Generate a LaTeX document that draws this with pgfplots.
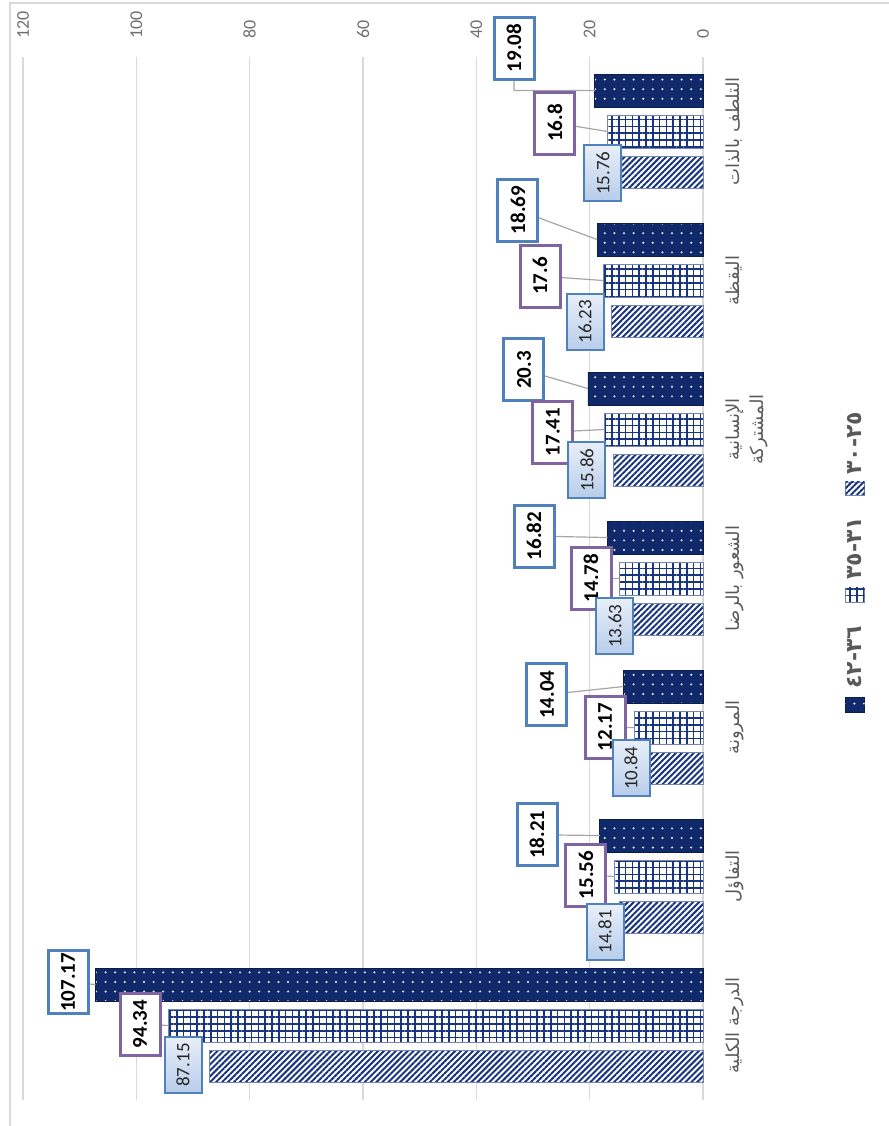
\documentclass[border=0pt]{standalone}
\usepackage{pgfplots}
\pgfplotsset{compat=1.18}
\usetikzlibrary{patterns.meta}
\usepackage{fontspec}
\setmainfont{Carlito}
\newfontfamily\arabicfont[Script=Arabic]{DejaVu Sans}
\TeXXeTstate=1
\definecolor{navy}{HTML}{10296B}
\definecolor{pat}{HTML}{1A3580}
\definecolor{txtgray}{HTML}{595959}
\definecolor{tickgray}{HTML}{6F6F6F}
\definecolor{gridgray}{HTML}{D9D9D9}
\definecolor{lblue}{HTML}{4F81BD}
\definecolor{lpurple}{HTML}{8064A2}
\definecolor{leader}{HTML}{A6A6A6}
\definecolor{lfillA}{HTML}{E8EFF9}
\definecolor{lfillB}{HTML}{B8CDEA}
\tikzset{
  darkbar/.style={fill=navy, draw=navy!70!black,
    postaction={pattern={Dots[distance=4.8pt, radius=0.55pt]}, pattern color=white}},
  gridbar/.style={fill=white, draw=pat!60,
    postaction={pattern={Hatch[distance=3.4pt, line width=0.75pt]}, pattern color=pat}},
  diagbar/.style={fill=white, draw=pat!60,
    postaction={pattern={Lines[angle=45, distance=2.1pt, line width=1pt]}, pattern color=pat}},
  darklbl/.style={rotate=90, anchor=center, draw=lblue, line width=1.5pt, fill=white, text=black,
    font=\bfseries\fontsize{10.5}{12}\selectfont, minimum width=31pt, minimum height=20pt, inner sep=1pt},
  purplbl/.style={rotate=90, anchor=center, draw=lpurple, line width=1.5pt, fill=white, text=black,
    font=\bfseries\fontsize{10.5}{12}\selectfont, minimum width=31pt, minimum height=20pt, inner sep=1pt},
  lightlbl/.style={rotate=90, anchor=center, draw=lblue, line width=1pt, top color=lfillA, bottom color=lfillB, text=black!85,
    font=\fontsize{9.5}{11}\selectfont, minimum width=28pt, minimum height=18.5pt, inner sep=1pt},
  legtext/.style={rotate=90, anchor=west, inner sep=0pt, text=txtgray,
    font=\arabicfont\bfseries\fontsize{11}{12}\selectfont},
}
\begin{document}
\begin{tikzpicture}
\path[use as bounding box] (0,0) rectangle (444.5pt,563pt);
\draw[gridgray, line width=1pt] (5pt,0) -- (5pt,561.5pt) -- (444.5pt,561.5pt);
\begin{axis}[
  at={(11.5pt,13pt)}, anchor=south west,
  scale only axis, width=340pt, height=521.5pt,
  xmin=0, xmax=120, x dir=reverse,
  ymin=-0.5, ymax=6.5, y dir=reverse,
  clip=false,
  axis line style={draw=none},
  major tick length=0pt,
  xtick={0,20,...,120},
  xmajorgrids=true,
  major grid style={draw=gridgray, line width=0.8pt},
  extra x ticks={0}, extra x tick labels={},
  extra x tick style={grid style={draw=black!30, line width=0.9pt}},
  xticklabel pos=upper,
  xticklabel style={rotate=90, anchor=west, inner sep=0pt, font=\fontsize{9}{10}\selectfont, text=tickgray},
  xticklabel shift=9pt,
  /pgf/number format/assume math mode=true,
  ytick={0,...,6},
  yticklabel pos=upper,
  yticklabels={
    {\beginR التلطف بالذات\endR},
    {\beginR اليقظة\endR},
    {\beginR الإنسانية\endR\\\beginR المشتركة\endR},
    {\beginR الشعور بالرضا\endR},
    {\beginR المرونة\endR},
    {\beginR التفاؤل\endR},
    {\beginR الدرجة الكلية\endR}},
  yticklabel style={rotate=90, anchor=north, align=center, inner sep=0pt,
    font=\arabicfont\fontsize{9}{12}\selectfont, text=txtgray},
  yticklabel shift=11pt,
]
% bars: 36-42 (dark, dots)
\addplot[xbar, bar width=0.22, bar shift=0pt, darkbar]
  coordinates {(19.08,-0.275) (18.69,0.725) (20.3,1.725) (16.82,2.725) (14.04,3.725) (18.21,4.725) (107.17,5.725)};
% bars: 31-35 (grid)
\addplot[xbar, bar width=0.22, bar shift=0pt, gridbar]
  coordinates {(16.8,0) (17.6,1) (17.41,2) (14.78,3) (12.17,4) (15.56,5) (94.34,6)};
% bars: 25-30 (diagonal)
\addplot[xbar, bar width=0.22, bar shift=0pt, diagbar]
  coordinates {(15.76,0.275) (16.23,1.275) (15.86,2.275) (13.63,3.275) (10.84,4.275) (14.81,5.275) (87.15,6.275)};
% leader lines
\addplot[forget plot, leader, line width=0.6pt, mark=none, unbounded coords=jump] coordinates {
  (33.35,-0.56) (33.35,-0.275) (19.08,-0.275) (nan,nan)
  (32.65,0.527) (18.69,0.725) (nan,nan)
  (31.59,1.60) (20.3,1.725) (nan,nan)
  (29.82,2.715) (16.82,2.725) (nan,nan)
  (27.53,3.78) (14.04,3.725) (nan,nan)
  (29.29,4.72) (18.21,4.725) (nan,nan)
  (112.05,5.71) (107.17,5.725) (nan,nan)
  (26.12,-0.057) (16.8,0) (nan,nan)
  (28.76,0.97) (17.6,1) (nan,nan)
  (26.47,2.017) (17.41,2) (nan,nan)
  (19.76,2.997) (14.78,3) (nan,nan)
  (17.29,3.997) (12.17,4) (nan,nan)
  (20.65,4.99) (15.56,5) (nan,nan)
  (99.35,5.99) (94.34,6)};
% data labels
\addplot[forget plot, draw=none, mark=none, nodes near coords, point meta=explicit symbolic,
  nodes near coords style={darklbl}] table[meta=t, row sep=\\] {
  x y t\\
  33.35 -0.56 19.08\\
  32.65 0.527 18.69\\
  31.59 1.60 20.3\\
  29.82 2.715 16.82\\
  27.53 3.78 14.04\\
  29.29 4.72 18.21\\
  112.05 5.71 107.17\\
};
\addplot[forget plot, draw=none, mark=none, nodes near coords, point meta=explicit symbolic,
  nodes near coords style={purplbl}] table[meta=t, row sep=\\] {
  x y t\\
  26.12 -0.057 16.8\\
  28.76 0.97 17.6\\
  26.47 2.017 17.41\\
  19.76 2.997 14.78\\
  17.29 3.997 12.17\\
  20.65 4.99 15.56\\
  99.35 5.99 94.34\\
};
\addplot[forget plot, draw=none, mark=none, nodes near coords, point meta=explicit symbolic,
  nodes near coords style={lightlbl}] table[meta=t, row sep=\\] {
  x y t\\
  17.65 0.279 15.76\\
  20.82 1.278 16.23\\
  20.47 2.272 15.86\\
  15.53 3.319 13.63\\
  12.70 4.272 10.84\\
  17.29 5.372 14.81\\
  91.76 6.265 87.15\\
};
\end{axis}
% legend (rotated, like the reference)
\path[diagbar] (422.75pt,315.5pt) rectangle (432.25pt,322pt);
\node[legtext] at (427.5pt,325.5pt) {٢٥-٣٠};
\path[gridbar] (422.75pt,262pt) rectangle (432.25pt,269pt);
\node[legtext] at (427.5pt,273pt) {٣١-٣٥};
\path[darkbar] (422.75pt,207pt) rectangle (432.25pt,214.5pt);
\node[legtext] at (427.5pt,218.5pt) {٣٦-٤٢};
\end{tikzpicture}
\end{document}
